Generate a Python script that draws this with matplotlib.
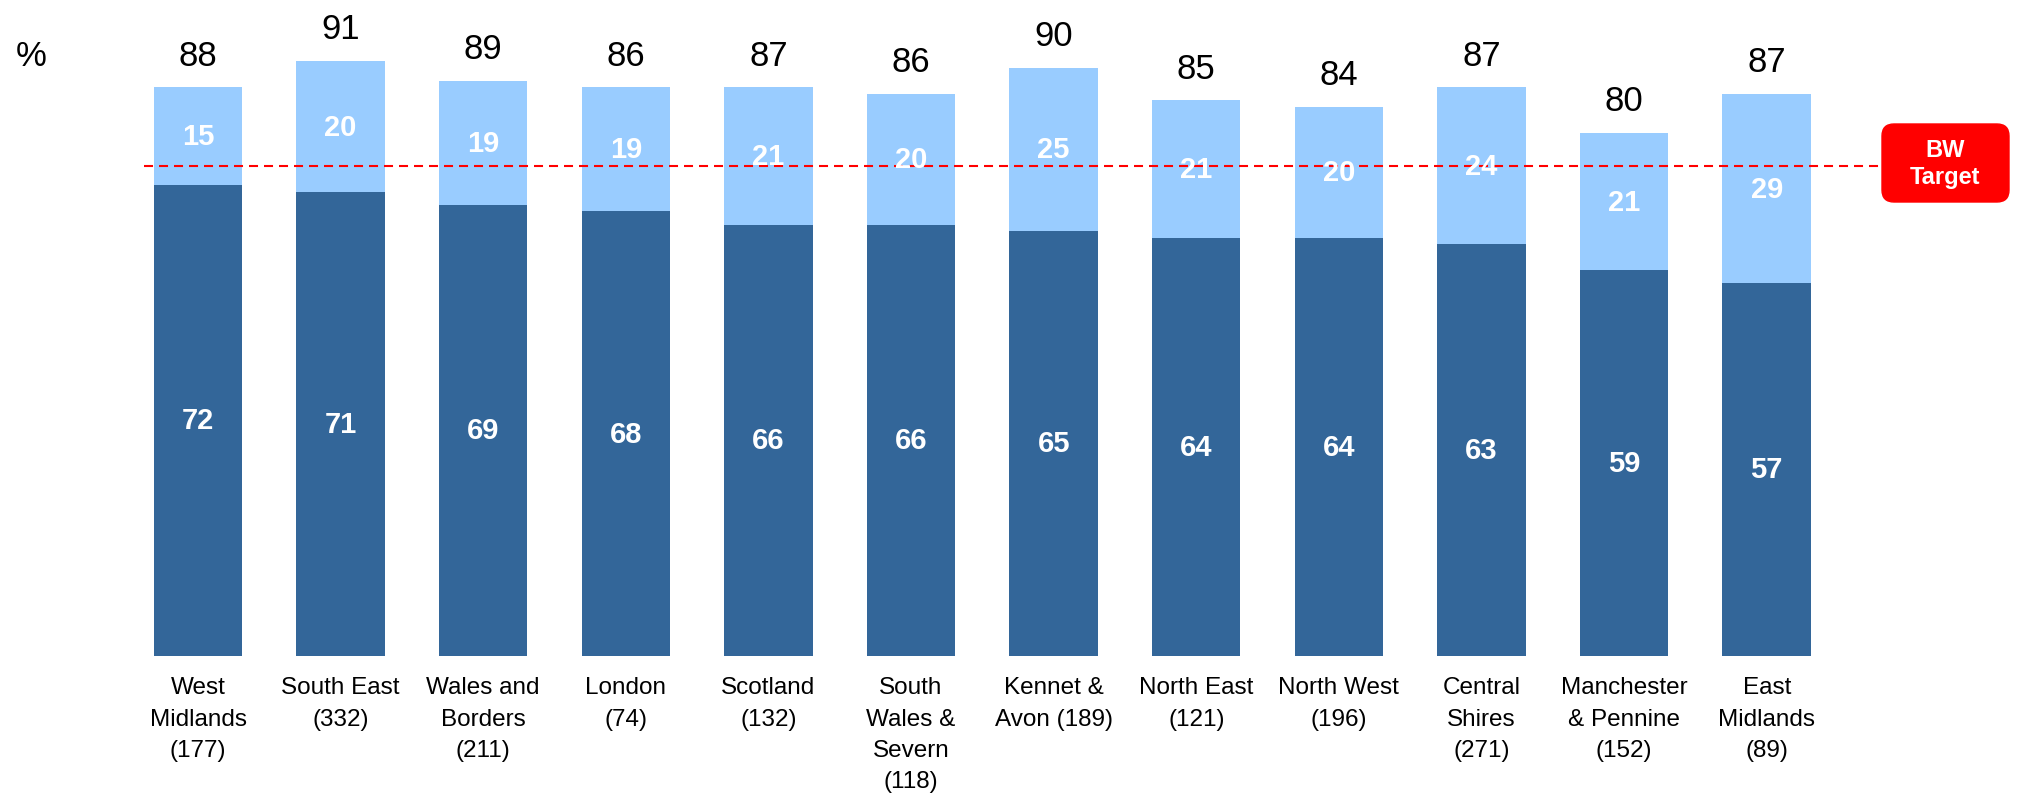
import matplotlib.pyplot as plt
import numpy as np
from matplotlib.patches import FancyBboxPatch
from matplotlib.transforms import IdentityTransform

plt.rcParams['font.family'] = ['Liberation Sans', 'DejaVu Sans']
plt.rcParams['lines.scale_dashes'] = False

DARK = '#336699'
LIGHT = '#99ccff'

# chart data
regions = ['West\nMidlands', 'South East', 'Wales and\nBorders', 'London', 'Scotland',
           'South\nWales &\nSevern', 'Kennet &\nAvon', 'North East', 'North West',
           'Central\nShires', 'Manchester\n& Pennine', 'East\nMidlands']
sample_sizes = [177, 332, 211, 74, 132, 118, 189, 121, 196, 271, 152, 89]
dark_vals = [72, 71, 69, 68, 66, 66, 65, 64, 64, 63, 59, 57]
light_vals = [15, 20, 19, 19, 21, 20, 25, 21, 20, 24, 21, 29]
totals = [88, 91, 89, 86, 87, 86, 90, 85, 84, 87, 80, 87]
target = 75

tick_labels = []
for name, n in zip(regions, sample_sizes):
    # "Kennet & Avon" keeps the count on the same line
    if name == 'Kennet &\nAvon':
        tick_labels.append(f'{name} ({n})')
    else:
        tick_labels.append(f'{name}\n({n})')

fig = plt.figure(figsize=(20.18, 8.03), dpi=100)
ax = fig.add_axes([0.0628, 0.1824, 0.848, 0.8132])

x = np.arange(len(regions))
bars_dark = ax.bar(x, dark_vals, width=0.62, color=DARK)
bars_light = ax.bar(x, light_vals, width=0.62, bottom=dark_vals, color=LIGHT)

for xi, d, l, t in zip(x, dark_vals, light_vals, totals):
    ax.text(xi, d / 2, str(d), ha='center', va='center', color='white',
            fontsize=21, fontweight='bold')
    ax.text(xi, d + l / 2, str(l), ha='center', va='center', color='white',
            fontsize=21, fontweight='bold')
    ax.annotate(str(t), (xi, d + l), xytext=(0, 16.5), textcoords='offset points',
                ha='center', va='baseline', fontsize=25, color='black')

# target line
ax.plot([-0.38, 11.81], [target, target], color='#ff0000', lw=1.5,
        dashes=(6.5, 4.3), clip_on=False)

ax.set_xlim(-0.5, 11.5)
ax.set_ylim(0, 100)
ax.set_xticks(x)
ax.set_xticklabels(tick_labels, fontsize=17.5, linespacing=1.55)
ax.tick_params(axis='x', length=0, pad=15)
ax.set_yticks([])
for s in ax.spines.values():
    s.set_visible(False)

fig.text(31 / 2018, 1 - 57 / 803, '%', ha='center', va='center', fontsize=25)

# BW Target badge
badge = FancyBboxPatch((1882, 600), 127, 78, boxstyle='round,pad=0,rounding_size=12',
                       fc='#ff0000', ec='#ff0000', transform=IdentityTransform())
fig.add_artist(badge)
fig.text(1945.5 / 2018, 1 - 164 / 803, 'BW\nTarget', ha='center', va='center',
         color='white', fontsize=17, fontweight='bold', linespacing=1.2)

fig.savefig('out.png', dpi=100)
